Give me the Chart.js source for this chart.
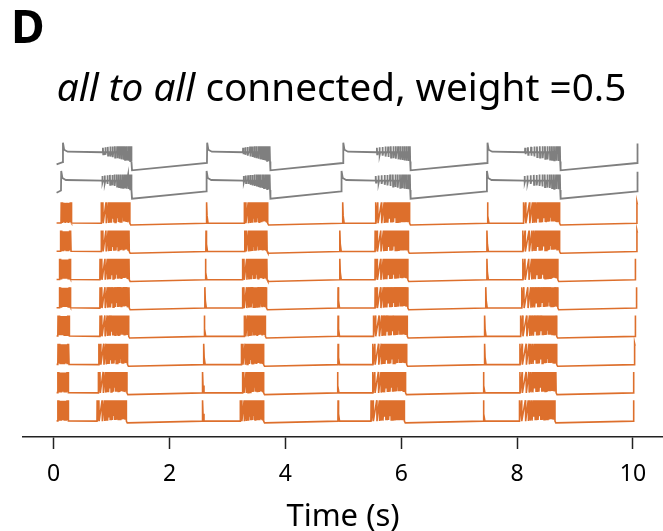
<!DOCTYPE html>
<html>
<head>
<meta charset="utf-8">
<script src="https://cdn.jsdelivr.net/npm/chart.js@4.4.1/dist/chart.umd.min.js"></script>
<style>
html,body{margin:0;padding:0;background:#fff;}
#wrap{position:relative;width:663px;height:531px;overflow:hidden;}
#panel{position:absolute;left:11px;top:-6px;font:bold 46px "Noto Sans";color:#000;}
#title{position:absolute;left:0;width:683px;top:60px;text-align:center;font:38.7px "Noto Sans";color:#000;white-space:nowrap;}
#title i{font-style:italic;}
canvas{position:absolute;left:0;top:0;}
</style>
</head>
<body>
<div id="wrap">
<canvas id="c" width="663" height="531"></canvas>
<div id="panel">D</div>
<div id="title"><i>all to all</i> connected, weight =0.5</div>
</div>
<script>
// ---------------- data ----------------
const timeTicks = [0, 2, 4, 6, 8, 10];
const xAxisTitle = 'Time (s)';
const traceNames = ['gray 1', 'gray 2', 'orange 1', 'orange 2', 'orange 3', 'orange 4',
                    'orange 5', 'orange 6', 'orange 7', 'orange 8'];

// gray cells: onset spikes (start of plateau) and burst windows (s)
const grayOnsets = [
  [0.16, 2.65, 5.00, 7.49, 10.08],
  [0.13, 2.64, 4.97, 7.48, 10.08]
];
const grayBurstStart = [
  [0.85, 3.27, 5.58, 8.14],
  [0.84, 3.28, 5.56, 8.13]
];
const grayBurstEnd = [
  [1.34, 3.73, 6.15, 8.74],
  [1.34, 3.73, 6.15, 8.74]
];

// orange cells: initial block, single spikes and burst windows (s)
const orangeBlockStart = [0.13, 0.115, 0.10, 0.10, 0.075, 0.075, 0.07, 0.07];
const orangeBlockEnd   = [0.305, 0.294, 0.288, 0.288, 0.265, 0.259, 0.248, 0.248];
const orangeSpikes = [
  [2.64, 4.99, 7.49, 10.07],
  [2.63, 4.94, 7.48, 10.07],
  [2.62, 4.94, 7.48, 10.04],
  [2.61, 4.91, 7.46, 10.06],
  [2.60, 4.91, 7.44, 10.04],
  [2.59, 4.91, 7.44, 10.03],
  [2.57, 4.90, 7.42, 10.01],
  [2.57, 4.91, 7.42, 10.01]
];
const orangeBurstStart = [
  [0.82, 3.29, 5.56, 8.11],
  [0.82, 3.30, 5.55, 8.10],
  [0.80, 3.26, 5.55, 8.10],
  [0.80, 3.26, 5.55, 8.08],
  [0.80, 3.29, 5.52, 8.06],
  [0.78, 3.24, 5.51, 8.05],
  [0.77, 3.26, 5.51, 8.05],
  [0.75, 3.22, 5.48, 8.04]
];
const orangeBurstEnd = [
  [1.31, 3.69, 6.14, 8.73],
  [1.30, 3.68, 6.12, 8.73],
  [1.30, 3.68, 6.11, 8.70],
  [1.30, 3.67, 6.11, 8.70],
  [1.29, 3.65, 6.10, 8.68],
  [1.27, 3.62, 6.09, 8.68],
  [1.26, 3.62, 6.07, 8.67],
  [1.25, 3.62, 6.05, 8.65]
];

// spike positions inside a burst (fraction of burst length) and their troughs (mV)
const orangeBurstPattern = [0, 0.06, 0.17, 0.25, 0.30, 0.35, 0.40, 0.44, 0.48, 0.52, 0.56, 0.60,
                            0.63, 0.66, 0.69, 0.72, 0.75, 0.78, 0.81, 0.84, 0.87, 0.90, 0.93, 0.96, 1.0];
const orangeBurstTroughs = [-66, -66, -66, -65, -64, -64, -50, -63, -63, -62, -48, -62,
                            -62, -61, -61, -60, -46, -60, -60, -60, -59, -59, -60, -61, -66];
const orangeBlockPattern = [0, 0.06, 0.12, 0.18, 0.24, 0.30, 0.36, 0.42, 0.48, 0.54, 0.60,
                            0.66, 0.72, 0.78, 0.84, 0.90, 0.95, 1.0];
const grayBurstPattern = [0, 0.08, 0.17, 0.26, 0.34, 0.42, 0.50, 0.57, 0.64, 0.71,
                          0.77, 0.83, 0.89, 0.95, 1.0];
const grayBurstPeaks   = [1, 3, 4, 5, 5, 6, 6, 6, 6, 6, 6, 6, 6, 6, 6];
const grayBurstTroughs = [-22, -24, -27, -30, -32, -34, -36, -38, -40, -41, -42, -44, -45, -46, -48];

// voltage levels (mV) and spacing between stacked traces
const traceSpacing = 100;
const restV = -65, peakV = 8, ahpV = -72, blockTroughV = -62;
const grayStartV = -58, grayPreFirstV = -50, grayPeakV = 19, grayPlateauV = -15,
      grayAhpV = -79, grayPreSpikeV = -53;
const traceStart = 0.05;

const grayColor = '#7f7f7f';
const orangeColor = '#dd6f2c';

// ---------------- build line points ----------------
function grayTrace(j) {
  const pts = [], off = -traceSpacing * j;
  const add = (t, v) => pts.push({x: t, y: v + off});
  add(traceStart, grayStartV);
  const ons = grayOnsets[j];
  for (let c = 0; c < grayBurstStart[j].length; c++) {
    const on = ons[c];
    add(on - 0.004, c === 0 ? grayPreFirstV : grayPreSpikeV);
    add(on, grayPeakV);
    add(on + 0.02, -6);
    add(on + 0.08, -13);
    const s = grayBurstStart[j][c], e = grayBurstEnd[j][c];
    grayBurstPattern.forEach((f, k) => {
      const t = s + f * (e - s);
      add(t - 0.003, grayPlateauV);
      add(t, grayBurstPeaks[k]);
      add(t + 0.005, grayBurstTroughs[k]);
      if (k < grayBurstPattern.length - 1) add(t + 0.012, grayPlateauV);
    });
    add(e + 0.012, grayAhpV);
  }
  const last = ons[ons.length - 1];
  add(last - 0.004, grayPreSpikeV);
  add(last, grayPeakV - 3);
  return pts;
}

function orangeTrace(i) {
  const pts = [], off = -traceSpacing * (i + 2);
  const add = (t, v) => pts.push({x: t, y: v + off});
  add(traceStart, restV);
  const bs = orangeBlockStart[i], be = orangeBlockEnd[i];
  add(bs - 0.004, restV);
  orangeBlockPattern.forEach((f, k) => {
    const t = bs + f * (be - bs);
    add(t, peakV - (k > 2 && k < 15 ? 2 : 0));
    if (k < orangeBlockPattern.length - 1) add(t + 0.004, blockTroughV);
  });
  add(be + 0.006, restV);
  const burst = (s, e) => {
    add(s - 0.003, restV - 1);
    orangeBurstPattern.forEach((f, k) => {
      const t = s + f * (e - s);
      add(t, peakV);
      add(t + 0.005, orangeBurstTroughs[k]);
    });
    add(e + 0.02, ahpV);
  };
  const spike = (t, isLast) => {
    add(t - 0.003, restV - 1);
    add(t, peakV);
    if (isLast) { add(t + 0.008, peakV - 8); return; }
    add(t + 0.008, -40);
    add(t + 0.025, restV - 1);
  };
  const bst = orangeBurstStart[i], ben = orangeBurstEnd[i], sp = orangeSpikes[i];
  for (let c = 0; c < bst.length; c++) {
    burst(bst[c], ben[c]);
    spike(sp[c], c === sp.length - 1);
  }
  return pts;
}

const datasets = [];
grayOnsets.forEach((_, j) => datasets.push({
  label: traceNames[j], data: grayTrace(j), borderColor: grayColor, borderWidth: 1.8
}));
orangeBlockStart.forEach((_, i) => datasets.push({
  label: traceNames[i + 2], data: orangeTrace(i), borderColor: orangeColor, borderWidth: 1.6
}));

new Chart(document.getElementById('c'), {
  type: 'line',
  data: { datasets },
  options: {
    responsive: false,
    animation: false,
    devicePixelRatio: 1,
    parsing: false,
    normalized: true,
    layout: { padding: { left: 23, right: 0, top: 124, bottom: 0 } },
    elements: { point: { radius: 0 }, line: { tension: 0, borderJoinStyle: 'miter', borderCapStyle: 'butt' } },
    plugins: { legend: { display: false }, tooltip: { enabled: false } },
    scales: {
      x: {
        type: 'linear', min: -0.53, max: 10.52,
        afterBuildTicks: (axis) => { axis.ticks = timeTicks.map(v => ({ value: v })); },
        afterFit: (scale) => { scale.height = 94; },
        grid: { drawOnChartArea: false, drawTicks: true, tickLength: 12, tickWidth: 1.5, tickColor: '#222' },
        border: { display: true, color: '#222', width: 1.5 },
        ticks: { color: '#000', font: { family: 'Noto Sans', size: 23 }, padding: 12, maxRotation: 0 },
        title: { display: true, text: xAxisTitle, color: '#000', font: { family: 'Noto Sans', size: 31, lineHeight: 0.88 }, padding: { top: 2, bottom: 0 } }
      },
      y: { type: 'linear', display: false, min: -1022, max: 85 }
    }
  }
});
</script>
</body>
</html>
